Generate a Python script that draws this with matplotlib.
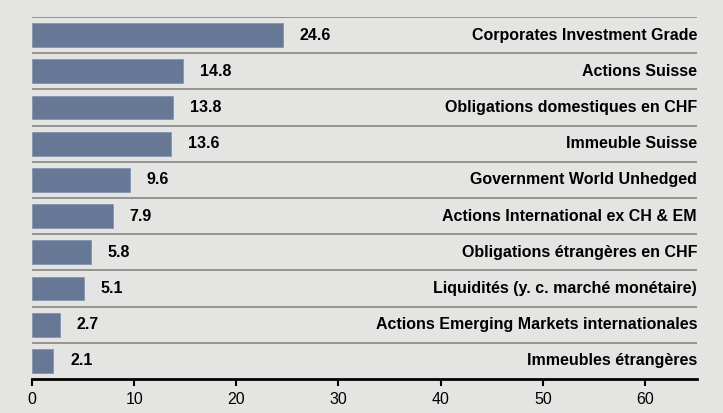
import matplotlib
matplotlib.use("Agg")
import matplotlib.pyplot as plt

plt.rcParams['font.family'] = ['Liberation Sans', 'DejaVu Sans']

# Allocation par catégorie de placement (en %)
categories = [
    'Corporates Investment Grade',
    'Actions Suisse',
    'Obligations domestiques en CHF',
    'Immeuble Suisse',
    'Government World Unhedged',
    'Actions International ex CH & EM',
    'Obligations étrangères en CHF',
    'Liquidités (y. c. marché monétaire)',
    'Actions Emerging Markets internationales',
    'Immeubles étrangères',
]
values = [24.6, 14.8, 13.8, 13.6, 9.6, 7.9, 5.8, 5.1, 2.7, 2.1]
xticks = [0, 10, 20, 30, 40, 50, 60]

bg = '#e4e4e2'
bar_color = '#677897'

fig = plt.figure(figsize=(7.23, 4.13), dpi=100, facecolor=bg)
ax = fig.add_axes([0.0443, 0.0823, 0.9198, 0.8765], facecolor=bg)

n = len(categories)
ypos = list(range(n))
ax.barh(ypos, values, height=0.66, color=bar_color, edgecolor='#8593b0', linewidth=0.6, zorder=2)

ax.set_xlim(0, 65.1)
ax.set_ylim(n - 0.5, -0.5)

# separators above each row
for i in range(n):
    ax.axhline(i - 0.5, color='#7d7d7d', linewidth=1.1, zorder=1)

for y, v, name in zip(ypos, values, categories):
    ax.annotate(f'{v:.1f}', xy=(v, y), xytext=(12, 0), textcoords='offset points',
                ha='left', va='center', fontsize=11.5, fontweight='bold', color='black')
    ax.text(65.1, y, name, ha='right', va='center', fontsize=11.5,
            fontweight='bold', color='black')

ax.set_xticks(xticks)
ax.set_yticks([])
for s in ['top', 'right', 'left']:
    ax.spines[s].set_visible(False)
ax.spines['bottom'].set_linewidth(2)
ax.tick_params(axis='x', length=5, width=1.5, direction='out', labelsize=11.5, pad=4)

fig.savefig('out.png', dpi=100, facecolor=bg)
